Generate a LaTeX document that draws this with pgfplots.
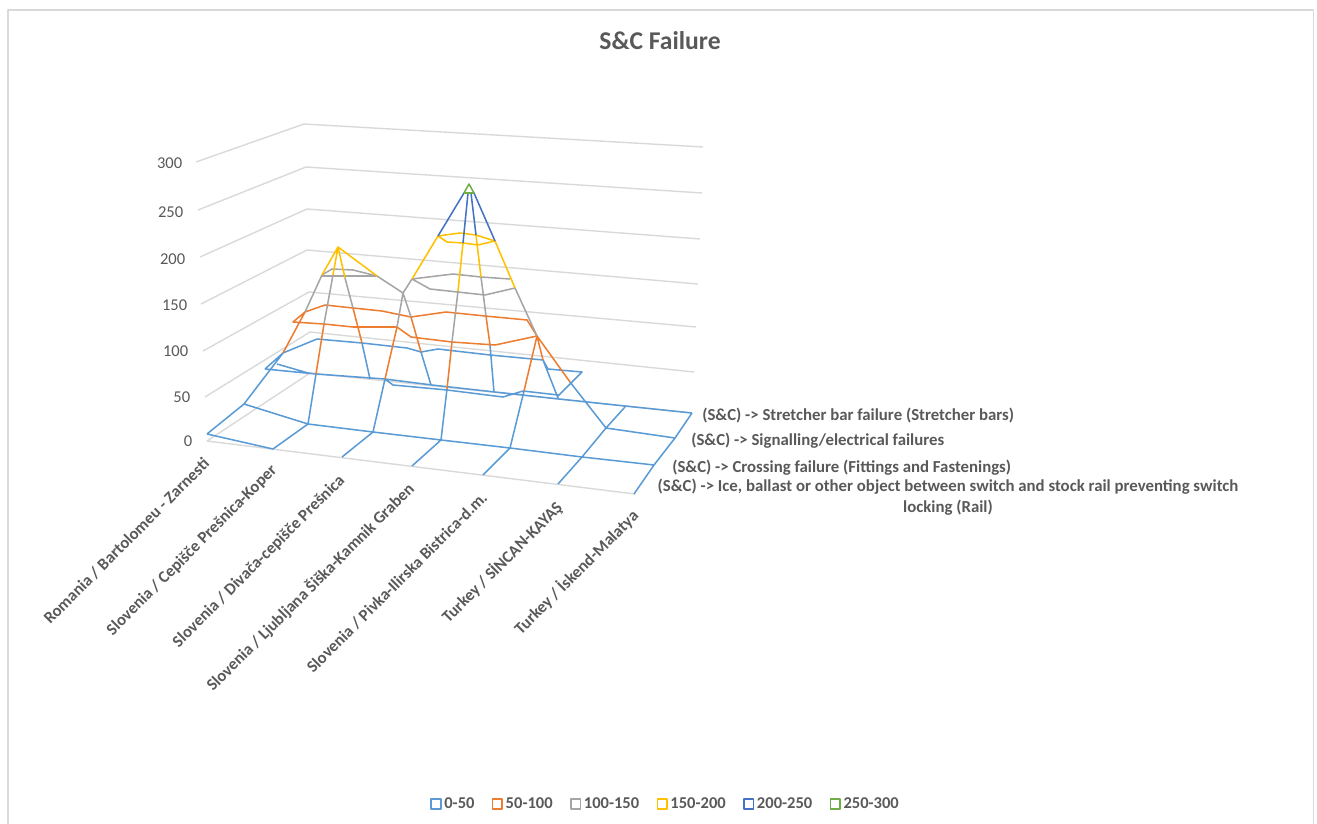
\documentclass[border=0pt]{standalone}
\usepackage{fontspec}
\setmainfont{Carlito}
\usepackage{pgfplots}
\pgfplotsset{compat=1.18}
\definecolor{band0}{HTML}{5B9BD5}
\definecolor{band1}{HTML}{ED7D31}
\definecolor{band2}{HTML}{A5A5A5}
\definecolor{band3}{HTML}{FFC000}
\definecolor{band4}{HTML}{4472C4}
\definecolor{band5}{HTML}{70AD47}
\definecolor{gridc}{HTML}{D9D9D9}
\definecolor{textc}{HTML}{595959}
% 1 px of the reference = 0.75pt, coordinates are read in pixels from the top left
\newcommand{\catfont}{\fontsize{12.5}{14}\selectfont\bfseries\color{textc}}
\newcommand{\serfont}{\fontsize{12.6}{15.6}\selectfont\bfseries\color{textc}}
\newcommand{\valfont}{\fontsize{12.4}{14}\selectfont\color{textc}}
\begin{document}
\begin{tikzpicture}
\begin{axis}[
  scale only axis,
  width=987.75pt,
  height=618pt,
  xmin=0, xmax=1317,
  ymin=0, ymax=824,
  y dir=reverse,
  hide axis,
  unbounded coords=jump,
  every axis plot/.append style={line width=1.15pt, line join=round, no markers},
  legend columns=6,
  legend style={
    at={(axis cs:666,804)}, anchor=center, draw=none, fill=none,
    font=\fontsize{12.4}{14}\selectfont\bfseries\color{textc},
    inner sep=0pt,
    /tikz/every even column/.append style={column sep=11pt},
  },
  legend image code/.code={\draw[#1, line width=1.2pt] (0pt,-3.6pt) rectangle (7.2pt,3.6pt);},
]
% keeps the page as large as the whole reference
\path (axis cs:0,0) (axis cs:1317,824);
% chart frame
\addplot[gridc, line width=1.1pt, forget plot] coordinates {(8,824) (8,10) (1313.5,10) (1313.5,824)};
% walls and floor
\addplot[gridc, line width=1.05pt, forget plot] coordinates {
  (196,162) (304,124) (703,147) (nan,nan)
  (198,210) (306,167) (702,193) (nan,nan)
  (200,257) (307,209) (700,239) (nan,nan)
  (201,304) (307,250) (698,284) (nan,nan)
  (203,351) (309,292) (696,327) (nan,nan)
  (205,397) (310,332) (694,372) (nan,nan)
  (692,413) (310,373) (207,441) (635,494)
};
% 0-50
\addplot[band0] coordinates {
  (207,434) (273,449) (308,424) (nan,nan)
  (207,434) (244,404) (283,353) (nan,nan)
  (244,404) (308,424) (373,432) (441,440) (510,448) (582,457) (654,465) (nan,nan)
  (342,457) (373,432) (nan,nan)
  (412,466) (441,440) (nan,nan)
  (483,475) (510,448) (nan,nan)
  (558,484) (582,457) (606,428) (625,407) (nan,nan)
  (634,494) (654,465) (675,438) (692,413) (nan,nan)
  (606,428) (675,438) (nan,nan)
  (265,369) (283,353) (317,339) (362,343) (407,348) (421,352) (438,349) (490,355) (543,360) (548,369) (582,372) (558,396) (nan,nan)
  (265,369) (316,374) (385,379) (393,385) (447,390) (503,397) (523,391) (558,395) (nan,nan)
  (277,364) (308,373) (316,374) (nan,nan)
  (385,379) (432,385) (495,392) (559,399) (625,406) (692,413) (nan,nan)
  (308,424) (316,374) (nan,nan)
  (362,343) (370,379) (nan,nan)
  (373,432) (385,379) (nan,nan)
  (421,352) (431,385) (nan,nan)
  (441,440) (447,389) (nan,nan)
  (490,345) (494,392) (nan,nan)
  (510,448) (524,391) (nan,nan)
  (543,360) (558,398) (nan,nan)
  (570,382) (606,428)
};
\addlegendentry{0-50}
% 50-100
\addplot[band1] coordinates {
  (283,353) (305,312) (325,305) (353,308) (382,311) (411,317) (446,312) (485,316) (527,320) (537,336) (nan,nan)
  (305,312) (293,322) (324,324) (353,327) (397,327) (411,337) (452,342) (495,345) (537,336) (nan,nan)
  (316,374) (324,324) (nan,nan)
  (353,308) (362,343) (nan,nan)
  (385,379) (397,327) (nan,nan)
  (411,317) (421,352) (nan,nan)
  (447,389) (452,342) (nan,nan)
  (486,316) (490,345) (nan,nan)
  (524,391) (537,336) (543,360) (nan,nan)
  (537,336) (570,382)
};
\addlegendentry{50-100}
% 100-150
\addplot[band2] coordinates {
  (305,312) (322,275) (332,269) (353,270) (377,276) (403,293) (412,279) (453,274) (481,277) (510,279) (nan,nan)
  (322,276) (377,276) (nan,nan)
  (412,279) (430,289) (485,295) (515,288) (537,336) (nan,nan)
  (324,324) (333,275) (nan,nan)
  (345,278) (353,308) (nan,nan)
  (403,293) (397,327) (nan,nan)
  (403,293) (411,317) (nan,nan)
  (458,291) (452,342) (nan,nan)
  (481,277) (486,316)
};
\addlegendentry{100-150}
% 150-200
\addplot[band3] coordinates {
  (322,275) (338,247) (333,275) (nan,nan)
  (338,247) (345,278) (nan,nan)
  (338,247) (377,276) (nan,nan)
  (412,279) (438,236) (460,233) (476,235) (495,241) (515,288) (nan,nan)
  (438,236) (447,242) (463,243) (478,245) (495,241) (nan,nan)
  (463,243) (458,291) (nan,nan)
  (476,235) (481,277)
};
\addlegendentry{150-200}
% 200-250
\addplot[band4] coordinates {
  (438,236) (464,193) (474,193) (495,241) (nan,nan)
  (468,193) (463,243) (nan,nan)
  (471,193) (476,235)
};
\addlegendentry{200-250}
% 250-300
\addplot[band5] coordinates {(464,193) (469,184) (474,193) (464,193)};
\addlegendentry{250-300}

\node[font=\fontsize{19.2}{22}\selectfont\bfseries\color{textc}] at (axis cs:660,41) {S\&C Failure};

\node[font=\valfont, anchor=east, inner sep=0pt] at (axis cs:182.5,163) {300};
\node[font=\valfont, anchor=east, inner sep=0pt] at (axis cs:183.5,212) {250};
\node[font=\valfont, anchor=east, inner sep=0pt] at (axis cs:185.5,259) {200};
\node[font=\valfont, anchor=east, inner sep=0pt] at (axis cs:187.5,305) {150};
\node[font=\valfont, anchor=east, inner sep=0pt] at (axis cs:188.5,351) {100};
\node[font=\valfont, anchor=east, inner sep=0pt] at (axis cs:190.5,397) {50};
\node[font=\valfont, anchor=east, inner sep=0pt] at (axis cs:192.5,441) {0};

\node[font=\catfont, anchor=east, rotate=45, inner sep=0pt] at (axis cs:206.5,461) {Romania / Bartolomeu - Zarnesti};
\node[font=\catfont, anchor=east, rotate=45, inner sep=0pt] at (axis cs:274.5,468) {Slovenia / Cepišče Prešnica-Koper};
\node[font=\catfont, anchor=east, rotate=45, inner sep=0pt] at (axis cs:342.5,478) {Slovenia / Divača-cepišče Prešnica};
\node[font=\catfont, anchor=east, rotate=45, inner sep=0pt] at (axis cs:411.5,486) {Slovenia / Ljubljana Šiška-Kamnik Graben};
\node[font=\catfont, anchor=east, rotate=45, inner sep=0pt] at (axis cs:484.5,495) {Slovenia / Pivka-Ilirska Bistrica-d.m.};
\node[font=\catfont, anchor=east, rotate=45, inner sep=0pt] at (axis cs:559.5,505) {Turkey / SİNCAN-KAYAŞ};
\node[font=\catfont, anchor=east, rotate=45, inner sep=0pt] at (axis cs:635.5,513) {Turkey / İskend-Malatya};

\node[font=\serfont, anchor=west, inner sep=0pt] at (axis cs:702,415.5) {(S\&C) -> Stretcher bar failure (Stretcher bars)};
\node[font=\serfont, anchor=west, inner sep=0pt] at (axis cs:691,440.5) {(S\&C) -> Signalling/electrical failures};
\node[font=\serfont, anchor=west, inner sep=0pt] at (axis cs:672,467.5) {(S\&C) -> Crossing failure (Fittings and Fastenings)};
\node[font=\serfont, anchor=center, inner sep=0pt, align=center] at (axis cs:948,497) {(S\&C) -> Ice, ballast or other object between switch and stock rail preventing switch\\locking (Rail)};
\end{axis}
\end{tikzpicture}
\end{document}
